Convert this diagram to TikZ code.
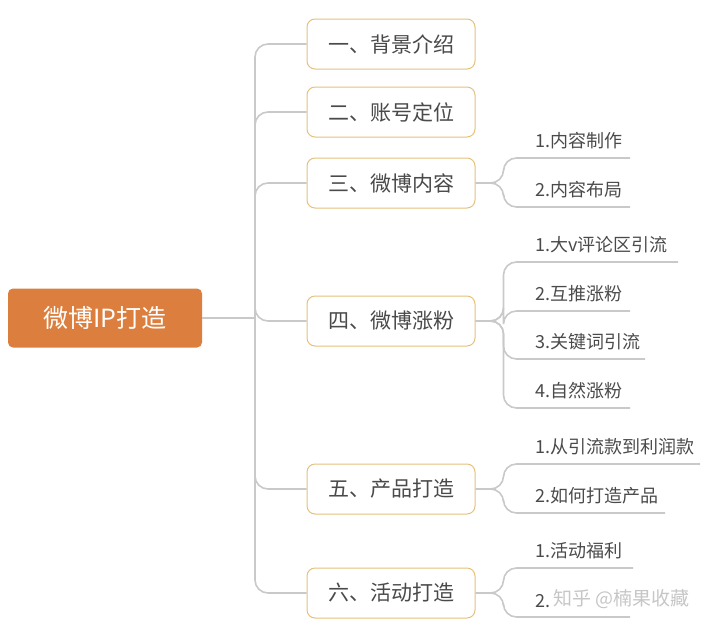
\documentclass[tikz,border=0pt]{standalone}
\usepackage{fontspec}
\setmainfont{Noto Sans CJK SC}
\definecolor{rootfill}{HTML}{DC7F3E}
\definecolor{boxline}{HTML}{E6C17E}
\definecolor{linkgray}{HTML}{C9C9C9}
\definecolor{textgray}{HTML}{4A4A4A}
\tikzset{
  rootbox/.style={fill=rootfill,rounded corners=5pt,minimum width=194pt,minimum height=59pt,text=white,font=\fontsize{25}{25}\selectfont},
  topicbox/.style={draw=boxline,line width=1pt,fill=white,rounded corners=8pt,minimum width=168pt,minimum height=50pt,text=textgray,font=\fontsize{21}{21}\selectfont},
  subtext/.style={anchor=south west,inner sep=0pt,text=textgray,font=\fontsize{18}{18}\selectfont},
  link/.style={draw=linkgray,line width=1.6pt,rounded corners=13pt}
}
\begin{document}
\begin{tikzpicture}[x=1pt,y=-1pt]
\useasboundingbox (0,0) rectangle (720,632);
% root and main topics
\node[rootbox] (root) at (105,318) {微博IP打造};
\node[topicbox] (t1) at (391,44) {一、背景介绍};
\node[topicbox] (t2) at (391,112) {二、账号定位};
\node[topicbox] (t3) at (391,183) {三、微博内容};
\node[topicbox] (t4) at (391,321) {四、微博涨粉};
\node[topicbox] (t5) at (391,489) {五、产品打造};
\node[topicbox] (t6) at (391,593) {六、活动打造};
\coordinate (trunk) at (255,318);
\draw[link] (root.east) -- (trunk);
\foreach \t in {t1,t2,t3,t4,t5,t6}
  \draw[link] (trunk) |- (\t.west);
% sub topics
\newcommand\subtopic[4]{% parent, underline y, end x, text
  \draw[link] (#1.east) -- ++(28,0) |- (#3,#2);
  \node[subtext] at (535,#2-9) {#4};
}
\subtopic{t3}{158}{630}{1.内容制作}
\subtopic{t3}{207}{630}{2.内容布局}
\subtopic{t4}{262}{678}{1.大v评论区引流}
\subtopic{t4}{311}{630}{2.互推涨粉}
\subtopic{t4}{359}{645}{3.关键词引流}
\subtopic{t4}{408}{630}{4.自然涨粉}
\subtopic{t5}{464}{700}{1.从引流款到利润款}
\subtopic{t5}{513}{665}{2.如何打造产品}
\subtopic{t6}{568}{633}{1.活动福利}
\subtopic{t6}{617}{630}{2.}
\node[subtext,text=gray!45,font=\fontsize{19}{19}\selectfont] (mark) at (553,609) {知乎 @楠果收藏};
\end{tikzpicture}
\end{document}
